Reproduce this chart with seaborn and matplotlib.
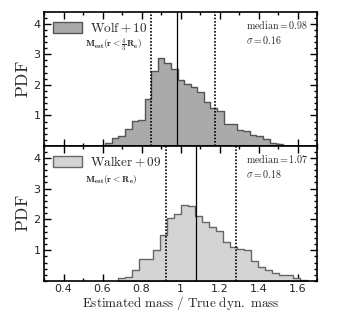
import numpy as np
import pandas as pd
import matplotlib
matplotlib.use("Agg")
import matplotlib.pyplot as plt
from matplotlib.ticker import MultipleLocator, FixedLocator
import seaborn as sns

# ---- data ----
wolf_start = 0.614
wolf_width = 0.0337
wolf_heights = [0.09, 0.25, 0.34, 0.55, 0.83, 0.85, 1.53, 2.46, 2.87, 2.70,
                2.51, 2.16, 2.02, 1.94, 1.78, 1.45, 1.23, 1.15, 0.71, 0.72,
                0.52, 0.50, 0.36, 0.34, 0.22, 0.09, 0.05]
wolf_lines = [0.85, 0.98, 1.176]
wolf_label = r"$\mathrm{Wolf+10}$"
wolf_sub = r"$\mathbf{M_{est}(r<\frac{4}{3}R_e)}$"
wolf_stats = [r"$\mathrm{median}=0.98$", r"$\sigma=0.16$"]

walker_start = 0.677
walker_width = 0.0359
walker_heights = [0.10, 0.12, 0.35, 0.70, 0.70, 1.00, 1.48, 2.04, 2.17, 2.47,
                  2.44, 2.12, 1.93, 1.74, 1.63, 1.27, 1.09, 1.03, 1.00, 0.65,
                  0.44, 0.35, 0.26, 0.18, 0.18, 0.10, 0.04]
walker_lines = [0.927, 1.077, 1.285]
walker_label = r"$\mathrm{Walker+09}$"
walker_sub = r"$\mathbf{M_{est}(r<R_e)}$"
walker_stats = [r"$\mathrm{median}=1.07$", r"$\sigma=0.18$"]

x_ticks = [0.4, 0.6, 0.8, 1.0, 1.2, 1.4, 1.6]
x_ticklabels = ["0.4", "0.6", "0.8", "1", "1.2", "1.4", "1.6"]
y_ticks = [1, 2, 3, 4]

sns.set_style("ticks")
plt.rcParams["mathtext.fontset"] = "cm"
plt.rcParams["font.family"] = ["DejaVu Sans"]

fig = plt.figure(figsize=(3.53, 3.12), dpi=100)
L, R = 44 / 353, 317 / 353
ax1 = fig.add_axes([L, 1 - 146 / 312, R - L, (146 - 12) / 312])
ax2 = fig.add_axes([L, 1 - 281 / 312, R - L, (281 - 146) / 312])

panels = [
    (ax1, wolf_start, wolf_width, wolf_heights, wolf_lines, wolf_label, wolf_sub,
     wolf_stats, "#aaaaaa", "#555555"),
    (ax2, walker_start, walker_width, walker_heights, walker_lines, walker_label,
     walker_sub, walker_stats, "#d4d4d4", "#666666"),
]

for ax, start, width, heights, lines, label, sub, stats, fc, ec in panels:
    n = len(heights)
    edges = [float(start + width * i) for i in range(n + 1)]
    centers = [e + width / 2 for e in edges[:-1]]
    df = pd.DataFrame({"x": centers, "w": heights})
    sns.histplot(data=df, x="x", weights="w", bins=edges, stat="count",
                 element="step", fill=True, ax=ax, label=label,
                 facecolor=fc, edgecolor=ec, linewidth=1.0, alpha=1)
    ax.axvline(lines[0], color="black", ls=(0, (1.0, 1.0)), lw=1.2)
    ax.axvline(lines[1], color="black", ls="-", lw=0.9)
    ax.axvline(lines[2], color="black", ls=(0, (1.0, 1.0)), lw=1.2)
    ax.set_xlim(0.3, 1.7)
    ax.set_ylim(0, 4.38)
    ax.xaxis.set_major_locator(FixedLocator(x_ticks))
    ax.xaxis.set_minor_locator(MultipleLocator(0.1))
    ax.yaxis.set_major_locator(FixedLocator(y_ticks))
    ax.yaxis.set_minor_locator(MultipleLocator(0.2))
    ax.tick_params(which="both", direction="in", top=True, right=True,
                   labelsize=8, width=1.0, color="black")
    ax.tick_params(which="major", length=5, pad=2.5)
    ax.tick_params(which="minor", length=2.5)
    for s in ax.spines.values():
        s.set_linewidth(1.2)
        s.set_color("black")
    ax.set_ylabel(r"$\mathrm{PDF}$", fontsize=12.5, labelpad=1)
    leg = ax.legend(loc="upper left", frameon=False, fontsize=9.5,
                    handlelength=2.2, handleheight=0.8, borderaxespad=0.25,
                    handletextpad=0.6)
    ax.text(0.15, 0.755, sub, transform=ax.transAxes, fontsize=6.8,
            ha="left", va="center")
    ax.text(0.74, 0.905, stats[0], transform=ax.transAxes, fontsize=7.2,
            ha="left", va="center")
    ax.text(0.74, 0.79, stats[1], transform=ax.transAxes, fontsize=7.2,
            ha="left", va="center")

ax1.set_xticklabels([])
ax1.set_xlabel("")
ax2.set_xticklabels(x_ticklabels)
ax2.set_xlabel(r"$\mathrm{Estimated\ mass\ /\ True\ dyn.\ mass}$", fontsize=9.5,
               labelpad=0)

fig.savefig("out.png", dpi=100)
